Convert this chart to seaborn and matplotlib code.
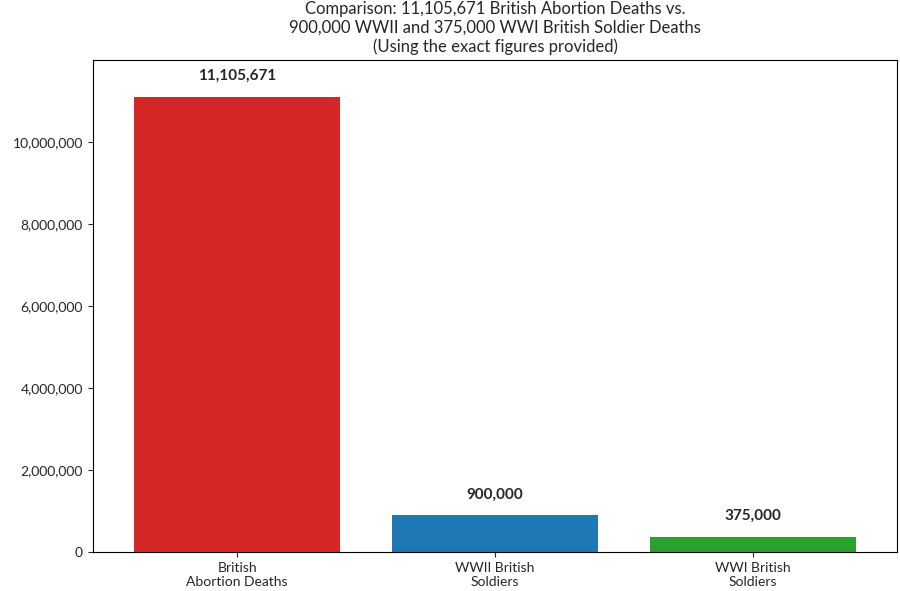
import matplotlib
matplotlib.use("Agg")
import matplotlib.pyplot as plt
import seaborn as sns
import pandas as pd
from matplotlib.ticker import FuncFormatter

categories = ["British\nAbortion Deaths", "WWII British\nSoldiers", "WWI British\nSoldiers"]
deaths = [11105671, 900000, 375000]
colors = ["#d62728", "#1f77b4", "#2ca02c"]

sns.set_style("ticks")
plt.rcParams["font.family"] = ["Lato", "DejaVu Sans"]

df = pd.DataFrame({"category": categories, "deaths": deaths})

fig, ax = plt.subplots(figsize=(9, 5.91), dpi=100)
sns.barplot(data=df, x="category", y="deaths", hue="category", palette=colors,
            width=0.8, saturation=1, legend=False, linewidth=0, ax=ax)

top = max(deaths)
for i, v in enumerate(deaths):
    ax.text(i, v + top * 0.03, f"{v:,}", ha="center", va="bottom",
            fontsize=11, fontweight="bold")

ax.set_xlim(-0.56, 2.56)
ax.set_ylim(0, 11990000)
ax.yaxis.set_major_formatter(FuncFormatter(lambda x, p: f"{int(x):,}"))
ax.set_xlabel("")
ax.set_ylabel("Number of Deaths", fontsize=12, labelpad=6)
ax.tick_params(labelsize=10)
ax.set_title("Comparison: 11,105,671 British Abortion Deaths vs.\n"
             "900,000 WWII and 375,000 WWI British Soldier Deaths\n"
             "(Using the exact figures provided)", fontsize=12)
for s in ax.spines.values():
    s.set_visible(True)
    s.set_color("black")

fig.subplots_adjust(left=0.103, right=0.997, top=0.898, bottom=0.066)
fig.savefig("out.png", dpi=100)
